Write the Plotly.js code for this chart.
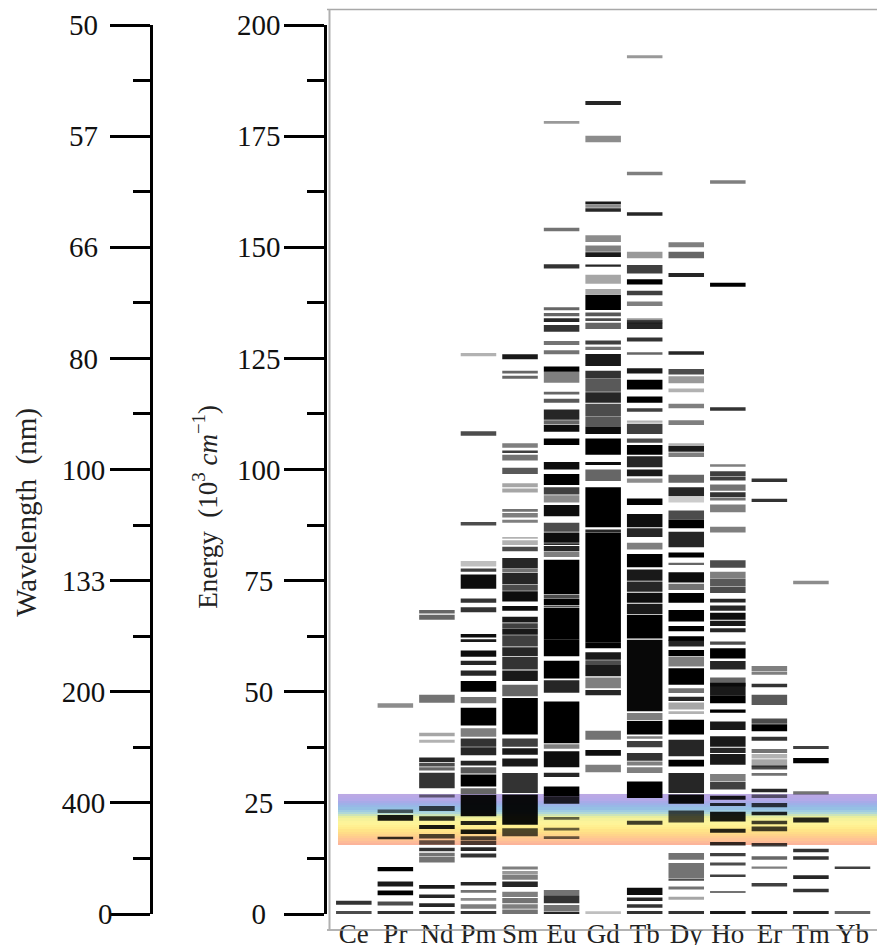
<!DOCTYPE html>
<html><head><meta charset="utf-8">
<script src="https://cdn.plot.ly/plotly-3.0.1.min.js"></script>
<style>html,body{margin:0;padding:0;background:#fff}#c{width:877px;height:945px}
.barlayer{filter:blur(0.55px)}</style></head><body><div id="c"></div>
<script>
const elements=["Ce","Pr","Nd","Pm","Sm","Eu","Gd","Tb","Dy","Ho","Er","Tm","Yb"];
const energyTicks=[0,25,50,75,100,125,150,175,200];
const energyLabels=["0","25","50","75","100","125","150","175","200"];
const wavelengthLabels=["0","400","200","133","100","80","66","57","50"];
const minorTicks=[12.5,37.5,62.5,87.5,112.5,137.5,162.5,187.5];
// each level band: [low energy, high energy, darkness]
const Ce=[[2.1,3.0,.8],[0,.7,.7]];
const Pr=[[46.4,47.4,.45],[22.7,23.5,.6],[21,22.3,.9],[16.8,17.4,.8],[9.6,10.6,1],[6.2,7.3,.9],[4.2,5.3,1],[1.9,2.8,.7],[0,.7,.8]];
const Nd=[[67.6,68.4,.6],[66.2,67.3,.6],[47.5,49.3,.55],[40,40.8,.35],[38.5,39.2,.3],[34.2,35.2,.85],[33.2,34,.7],[32.3,33,.6],[28.3,31.8,.8],[26.2,26.9,.5],[23.2,24.3,.7],[21,22,.8],[19.1,20,.9],[17,18,.7],[15.6,16.6,.6],[14.1,14.9,.8],[13,13.8,.55],[11.6,12.9,.55],[5.7,6.5,.9],[3.6,4.4,.85],[1.6,2.4,.85],[0,.7,.8]];
const Pm=[[125.5,126.2,.3],[107.6,108.6,.7],[87.4,88.2,.7],[78.2,79.4,.25],[77,77.7,.75],[73.2,76.4,.95],[70,71,.8],[67.9,69,.8],[62.2,63,.95],[61.2,61.8,.9],[57.9,59.3,.95],[56,57,.85],[53.6,54.8,.85],[50,52.4,1],[47.4,48.8,.55],[42.4,46.4,1],[39.9,41.8,.5],[37.6,39.5,.8],[35.7,37.5,.85],[33.4,34.5,.85],[31.6,33,.65],[28.7,31.4,1],[27,28.3,.6],[22,26.8,.95],[20,20.9,.85],[18,19,.9],[16.6,17.5,.7],[15.5,16.5,.7],[14.2,15,.85],[12.7,13.6,.8],[6.4,7.2,.85],[4.8,5.4,.55],[3,3.6,.45],[1.2,2.2,.5],[0,.7,.8]];
const Sm=[[124.8,125.9,.9],[121.6,122.2,.6],[120.4,121.1,.6],[104.9,105.9,.5],[103.7,104.3,.75],[102,103.3,.55],[99,100.4,.65],[96,96.9,.35],[94.8,95.7,.35],[90.5,91.1,.55],[89.2,90.2,.5],[88,88.7,.5],[84.4,84.8,.3],[83,84.1,.3],[81.6,82.6,.7],[77.8,80.1,.85],[76.8,77.7,.55],[74.2,76.7,.85],[72.7,74.1,.7],[70.3,72.6,.95],[68.2,69.3,.95],[65.6,66.9,.9],[64.2,65.4,.75],[62.8,64.1,.9],[60.2,62.7,.75],[58,60,.85],[55,57.8,.8],[52.4,54.8,.9],[49,51.6,.6],[40.4,48.6,1],[37.6,39.5,.75],[35.8,37.3,.9],[33.2,35,.9],[27.2,31.7,.8],[20.1,26.9,.95],[17.5,19.3,.7],[10,10.7,.5],[9,9.7,.4],[7.7,8.9,.5],[6.1,7.3,.85],[3.8,5,.5],[2.4,3.6,.55],[1.2,2.2,.5],[0,1,.55]];
const Eu=[[177.8,178.4,.4],[153.6,154.4,.55],[145.2,146.2,.8],[135.8,136.5,.6],[134.5,135.2,.6],[133.2,134,.85],[131,132.5,.8],[128,128.9,.55],[125.9,126.8,.55],[122,123.2,1],[119.5,122,.5],[116.9,117.5,.6],[115,115.9,.65],[111.2,113.5,.85],[110.1,111.1,.6],[108.5,110,.95],[105.5,107,1],[100,101.7,.95],[96.5,99,1],[94.4,96,.75],[92.6,94.2,.45],[89.5,92,.95],[86,88,.7],[83.5,85.8,.95],[83,83.4,.85],[81.6,82.8,.85],[80.3,81.5,.5],[72,79.7,1],[71.1,71.9,.7],[69.5,71,1],[69,69.4,.7],[61.7,68.9,1],[58,61.7,1],[53,57,1],[49.8,52.6,.85],[38.4,47.8,1],[37.2,38.2,.5],[33,36.6,.95],[30.8,31.8,.85],[26.5,28.7,1],[24.8,26.5,.85],[21.2,21.8,.6],[18.8,19.4,.6],[16.9,17.5,.6],[4.3,5.4,.55],[2.4,4.2,.8],[.6,2,.55],[0,.5,.85]];
const Gd=[[182,182.9,.85],[173.6,175.1,.45],[159.7,160.3,.9],[158.9,159.6,.45],[158,158.8,.85],[151.2,152.7,.45],[149,150.4,.5],[147.8,148.9,.9],[145.6,146.1,.85],[141.8,143.8,.35],[139.4,140.6,.35],[135.9,139.3,1],[134.5,135.3,.65],[133.4,134,.7],[131.6,133,.6],[128.1,129,.75],[126.9,127.6,.55],[123.3,126,.9],[120.5,122.2,.8],[117.5,120.4,.65],[115,117.4,.85],[112,114.8,.7],[109.7,111.9,.65],[108,109.7,.95],[103.3,107,1],[101,101.7,.95],[97.4,100,.6],[87,96,1],[85.9,86.5,.85],[61,85.8,1],[59.8,61,1],[57.2,58.9,.9],[56,57.1,.7],[53.5,56,.9],[50.8,53.2,.5],[49.2,50.4,.85],[39.2,41.2,.55],[35.6,36.9,.95],[31.9,33.6,.5],[-.2,.6,.25]];
const Tb=[[192.5,193.2,.4],[166.2,167,.5],[157.1,157.9,.85],[147.5,149,.4],[144.1,146,.75],[141.6,142.8,1],[139.2,140.2,.75],[136.8,137.8,.5],[133.4,134,.4],[132.9,133.6,.8],[131.6,133,.85],[128.8,129.7,.8],[125.8,126.4,.6],[121.6,122.8,.9],[118,120.2,1],[115,116.4,1],[113,113.8,.75],[110.5,111,.3],[108,110.3,.75],[106,107,.7],[103.3,105.5,1],[100.5,103,.85],[98.5,100,.9],[97,98,.45],[92,93.5,1],[87,90,.95],[84.8,86.8,.85],[82,83.5,.5],[78,81,1],[75,77.5,.9],[72.5,74.8,.85],[70,72.3,.95],[67.5,69.8,.9],[62,67.3,1],[45.6,61.7,.97],[43.6,45.2,.5],[40.4,43.4,1],[39.4,40,.5],[37.5,38.9,.75],[34.5,36.2,.8],[33.4,34.3,.5],[31.7,33,.5],[26.1,29.8,1],[20.1,21,.75],[4.3,5.9,.95],[2.9,3.7,.85],[1.4,2.2,.8],[0,.7,.8]];
const Dy=[[150,151.1,.5],[147.5,149,.6],[143.3,144.2,.85],[125.8,126.6,.85],[121.4,122.6,.7],[119.4,121,.4],[117.4,118.2,.3],[113.8,114.8,.5],[110,111.1,.5],[104.2,105.9,.3],[104,105.3,.85],[102.8,103.8,.5],[97,98.8,.6],[94,96,.85],[92.6,93.8,.2],[88.7,90.8,.7],[86.8,88.7,1],[82.5,86,.85],[80.2,81.3,1],[78.5,79,.6],[74.6,76.9,.95],[72.9,74.3,.55],[70,72.2,1],[65.8,68.4,1],[63.6,64.8,1],[61.5,62.5,1],[60.2,61.7,.85],[58,59.4,1],[55.7,57.8,.5],[51.6,55.3,1],[49.7,50.8,.55],[47.9,48.9,.85],[46,47.6,.35],[45,45.6,.3],[40.4,43.7,1],[35.5,39.2,.85],[33.2,34.7,1],[27.2,31.7,.85],[24.8,26.9,.95],[20.6,23.3,.7],[12.2,13.7,.55],[8.1,11.5,.55],[7.5,8,.7],[5.5,6.2,.55],[3.2,3.9,.35],[0,.7,.8]];
const Ho=[[164.3,165.1,.5],[141.1,142,1],[113.2,114,.8],[100.6,101.2,.5],[98.4,99.6,.75],[97.5,98.3,.75],[95.2,96.6,.55],[93.8,94.9,.8],[93,93.7,.55],[90.4,92.1,.5],[85.8,87.1,.5],[77.9,79.6,.7],[75.5,77,.5],[73.8,75.4,.65],[72.2,73.7,.7],[70.1,70.9,.85],[68.2,69.4,.85],[66.2,67.8,.95],[64.8,66,.9],[63.4,64.3,.85],[60.6,61.3,.7],[57.5,59.8,1],[55,56.9,.85],[51.2,53.2,.6],[49.2,52,.9],[47.4,49.2,1],[45.3,46,1],[41.4,43.3,.9],[37.6,40,.9],[36.2,37.4,.85],[33.6,36,.9],[29.8,31.5,.5],[28,29.7,.75],[25.7,26.6,.9],[24.3,25,.8],[20.8,23,.9],[18.3,19.2,.85],[15.4,16.2,.8],[13,13.7,.75],[10.9,11.6,.7],[8.3,8.9,.75],[4.7,5.2,.55],[0,.7,.9]];
const Er=[[97.2,98,.8],[92.7,93.4,.8],[54.6,55.8,.5],[53.8,54.5,.5],[51,51.8,.8],[47,49.3,.65],[42.8,44,.7],[41.1,42.7,1],[39,39.9,.8],[36.2,37.1,.55],[35,36,.3],[33,34.8,.35],[32.5,33.4,.7],[31.1,31.7,.55],[27.4,28.2,.85],[26.1,26.9,.55],[24,25,.75],[22.2,23,.85],[20.2,21,.75],[18.6,19.7,.75],[15.2,16,.75],[12.2,13,.6],[10.2,10.7,.5],[6.2,7,.75],[0,.7,.9]];
const Tm=[[74.2,75,.45],[37.1,37.8,.75],[33.9,35.1,1],[26.9,27.6,.55],[20.6,21.7,.85],[13.9,14.7,.8],[12.2,13,.8],[7.9,8.7,.85],[4.9,5.7,.8],[0,.7,.85]];
const Yb=[[10.1,10.7,.75],[0,.7,.6]];
const levels=[Ce,Pr,Nd,Pm,Sm,Eu,Gd,Tb,Dy,Ho,Er,Tm,Yb];
const bandEdges=[15.5,16,16.5,17,17.5,18,18.5,19,19.5,20,20.5,21,21.5,22,22.5,23,23.5,24,24.5,25,25.5,26,26.5,27];
const bandColors=["#fcb49a","#fdbc98","#ffc494","#ffcc8e","#ffd48a","#ffdc88","#ffe488","#ffec8c","#fff092","#fef498","#fcf49a","#f6f29a","#e8ee9e","#cce4b8","#b0d8d8","#a0cce2","#95c0e4","#98b8e6","#9fb0e8","#a8aae8","#b3a9e8","#b8a8e6","#bba9e4"];

const nb="\u00a0";
const traces=[];
traces.push({type:"heatmap",x:[-0.38,12.59],y:bandEdges,z:bandColors.map((_,i)=>[i]),
  colorscale:bandColors.map((c,i)=>[i/(bandColors.length-1),c]),showscale:false,hoverinfo:"skip"});
levels.forEach((lv,i)=>{
  traces.push({type:"bar",name:elements[i],x:lv.map(()=>i),base:lv.map(b=>b[0]),y:lv.map(b=>b[1]-b[0]),width:0.855,
    marker:{color:lv.map(b=>"rgba(0,0,0,"+b[2]+")"),line:{width:0}},showlegend:false,hoverinfo:"skip"});
});
traces.push({type:"scatter",mode:"markers",marker:{opacity:0},x:[0],y:[0],yaxis:"y2",showlegend:false,hoverinfo:"skip"});

const axisFont={family:"Liberation Serif",size:29,color:"#111"};
const plotL=151,plotT=25,plotB=914.4,H=945,W=877;
const px=v=>(v-plotL)/(W-plotL), py=v=>(plotB-v)/(plotB-plotT);
const layout={width:W,height:H,margin:{l:plotL,r:0,t:plotT,b:H-plotB,pad:0},paper_bgcolor:"#fff",plot_bgcolor:"rgba(0,0,0,0)",
  barmode:"overlay",showlegend:false,
  xaxis:{domain:[px(327),1],range:[-0.645,12.59],tickmode:"array",tickvals:elements.map((_,i)=>i),ticktext:elements,
    ticks:"",showline:false,showgrid:false,zeroline:false,tickfont:{family:"Liberation Serif",size:27,color:"#222"},ticklabelstandoff:1,fixedrange:true},
  yaxis:{range:[0,200],tickmode:"array",tickvals:energyTicks,ticktext:energyLabels.map(s=>s+nb.repeat(3-s.length)),
    ticks:"outside",ticklen:40,tickwidth:2.6,tickcolor:"#000",showline:true,linewidth:2.6,linecolor:"#000",showgrid:false,zeroline:false,
    tickfont:axisFont,ticklabelstandoff:-2,anchor:"x",
    minor:{tickmode:"array",tickvals:minorTicks,ticks:"outside",ticklen:17,tickwidth:2.6,tickcolor:"#000",showgrid:false}},
  yaxis2:{range:[0,200],overlaying:"y",anchor:"free",position:0,side:"left",tickmode:"array",tickvals:energyTicks,
    ticktext:wavelengthLabels.map(s=>s==="0"?s:s+nb.repeat(3-s.length+1)),
    ticks:"outside",ticklen:40,tickwidth:2.6,tickcolor:"#000",showline:true,linewidth:2.6,linecolor:"#000",showgrid:false,zeroline:false,
    tickfont:axisFont,ticklabelstandoff:-8,
    minor:{tickmode:"array",tickvals:minorTicks,ticks:"outside",ticklen:17,tickwidth:2.6,tickcolor:"#000",showgrid:false}},
  annotations:[
    {text:"Wavelength  (nm)",xref:"paper",yref:"paper",x:px(27),y:py(513),xanchor:"center",yanchor:"middle",textangle:-90,showarrow:false,font:{family:"Liberation Serif",size:29,color:"#222"}},
    {text:"Energy  (10<sup>3</sup> <i>cm</i><sup>−1</sup>)",xref:"paper",yref:"paper",x:px(205),y:py(507),xanchor:"center",yanchor:"middle",textangle:-90,showarrow:false,font:{family:"Liberation Serif",size:27,color:"#222"}}
  ],
  shapes:[
    {type:"line",xref:"paper",yref:"paper",x0:px(327),x1:1,y0:py(9.5),y1:py(9.5),line:{color:"#a8a8a8",width:1.5}},
    {type:"line",xref:"paper",yref:"paper",x0:px(327),x1:1,y0:py(930.5),y1:py(930.5),line:{color:"#9a9a9a",width:1.5}},
    {type:"line",xref:"paper",yref:"paper",x0:px(329.5),x1:px(329.5),y0:py(9.5),y1:py(930.5),line:{color:"#b0b0b0",width:2}}
  ]
};
Plotly.newPlot("c",traces,layout,{displayModeBar:false,staticPlot:false});
</script></body></html>
